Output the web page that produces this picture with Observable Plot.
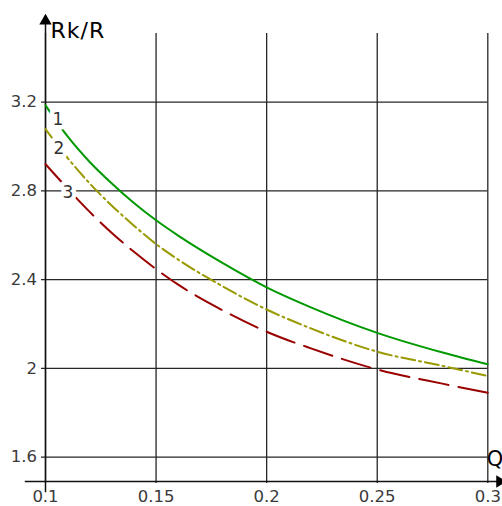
<!DOCTYPE html>
<html>
<head>
<meta charset="utf-8">
<script src="https://cdn.jsdelivr.net/npm/d3@7"></script>
<script src="https://cdn.jsdelivr.net/npm/@observablehq/plot@0.6"></script>
<style>
  html, body { margin: 0; padding: 0; background: #fff; }
  #chart svg { display: block; }
  .axis-title text { letter-spacing: 1px; }
</style>
</head>
<body>
<div id="chart"></div>
<script>
// ---- data ----
const q = [0.1, 0.11, 0.12, 0.13, 0.14, 0.15, 0.16, 0.18, 0.2, 0.22, 0.25, 0.28, 0.3];
const curve1 = [3.185, 3.045, 2.93, 2.833, 2.745, 2.667, 2.598, 2.475, 2.365, 2.275, 2.16, 2.07, 2.018];
const curve2 = [3.078, 2.948, 2.833, 2.733, 2.643, 2.56, 2.49, 2.37, 2.265, 2.18, 2.075, 2.01, 1.965];
const curve3 = [2.92, 2.81, 2.705, 2.61, 2.525, 2.447, 2.377, 2.262, 2.165, 2.09, 1.995, 1.93, 1.89];
const curveNames = ["1", "2", "3"];
const xTicks = [0.1, 0.15, 0.2, 0.25, 0.3];
const yTicks = [1.6, 2, 2.4, 2.8, 3.2];
const xLabel = "Q";
const yLabel = "Rk/R";

const rows = (vals, name) => q.map((x, i) => ({q: x, v: vals[i], name}));
const s1 = rows(curve1, curveNames[0]);
const s2 = rows(curve2, curveNames[1]);
const s3 = rows(curve3, curveNames[2]);

const font = "DejaVu Sans, Verdana, sans-serif";
const gridColor = "#262626";

const chart = Plot.plot({
  width: 502,
  height: 506,
  marginLeft: 45,
  marginRight: 14.7,
  marginTop: 15,
  marginBottom: 25,
  style: {fontFamily: font, background: "#fff", overflow: "visible"},
  x: {domain: [0.1, 0.3], label: null},
  y: {domain: [1.49, 3.59], label: null},
  marks: [
    // grid
    Plot.ruleX(xTicks, {x: d => d, insetTop: 18, insetBottom: -2, stroke: gridColor, strokeWidth: 1.3}),
    Plot.ruleY(yTicks, {y: d => d, insetLeft: -4, stroke: gridColor, strokeWidth: 1.3}),
    // axis lines
    Plot.frame({anchor: "bottom", insetLeft: -20, insetRight: -16, stroke: "#111", strokeWidth: 1.5}),
    Plot.frame({anchor: "left", insetBottom: -10, insetTop: 4, stroke: "#111", strokeWidth: 1.5}),
    // arrow heads
    Plot.dot([yLabel], {frameAnchor: "top-left", dy: 5.5, symbol: "triangle", r: 4.6, fill: "#000", stroke: "none"}),
    Plot.dot([xLabel], {frameAnchor: "bottom-right", dx: 12, dy: 0, rotate: 90, symbol: "triangle", r: 4.6, fill: "#000", stroke: "none"}),
    // tick labels
    Plot.axisX(xTicks, {tickSize: 0, tickPadding: 9, fontSize: 16.5, fill: "#3a3a3a", label: null, tickFormat: d => String(d)}),
    Plot.axisY(yTicks, {tickSize: 0, tickPadding: 8.5, fontSize: 16.5, fill: "#3a3a3a", label: null, tickFormat: d => String(d)}),
    // curves
    Plot.line(s1, {x: "q", y: "v", stroke: "#009900", strokeWidth: 2, curve: "monotone-x"}),
    Plot.line(s2, {x: "q", y: "v", stroke: "#999900", strokeWidth: 2, strokeDasharray: "14,4,2,4", curve: "monotone-x"}),
    Plot.line(s3, {x: "q", y: "v", stroke: "#990000", strokeWidth: 2, strokeDasharray: "30,10", curve: "monotone-x"}),
    // curve labels (anchored to each curve's first point)
    Plot.text([s1[0]], {x: "q", y: "v", text: "name", dx: 12.5, dy: 14, fontSize: 17, fill: "#333", stroke: "#fff", strokeWidth: 9}),
    Plot.text([s2[0]], {x: "q", y: "v", text: "name", dx: 13.3, dy: 19.5, fontSize: 17, fill: "#333", stroke: "#fff", strokeWidth: 9}),
    Plot.text([s3[0]], {x: "q", y: "v", text: "name", dx: 22.5, dy: 28.5, fontSize: 17, fill: "#333", stroke: "#fff", strokeWidth: 9}),
    // axis titles
    Plot.text([yLabel], {frameAnchor: "top-left", dx: 5, dy: 6.5, textAnchor: "start", lineAnchor: "top", fontSize: 22, fill: "#000", className: "axis-title"}),
    Plot.text([xLabel], {frameAnchor: "bottom-right", dx: -1, dy: -16, textAnchor: "start", lineAnchor: "bottom", fontSize: 21, fill: "#000"})
  ]
});
document.getElementById("chart").appendChild(chart);
</script>
</body>
</html>
